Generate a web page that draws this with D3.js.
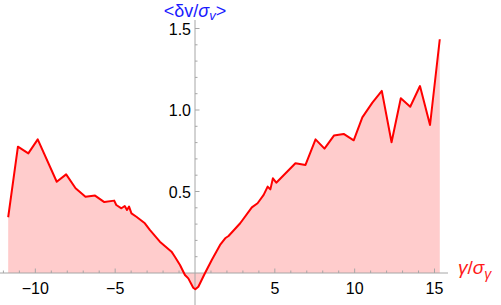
<!DOCTYPE html>
<html>
<head>
<meta charset="utf-8">
<script src="https://cdn.jsdelivr.net/npm/d3@7"></script>
<style>
  body { margin: 0; background: #fff; }
  svg { display: block; font-family: "Liberation Sans", Arial, sans-serif; }
</style>
</head>
<body>
<div id="wrapper"></div>
<script>
// data
const gammaValues = [
  -11.70, -11.09, -10.44, -9.85, -8.66, -8.07, -7.48, -6.86, -6.26, -5.68,
  -5.06, -4.93, -4.61, -4.40, -4.26, -4.13, -3.98, -3.67, -3.14, -2.83,
  -2.20, -1.47, -1.26, -0.94, -0.63, -0.42, -0.11, 0.02, 0.21, 0.63,
  1.05, 1.57, 1.89, 2.10, 2.83, 3.56, 3.92, 4.30, 4.55, 4.72,
  4.88, 5.09, 6.29, 6.92, 7.55, 8.11, 8.70, 9.31, 9.94, 10.48,
  11.11, 11.70, 12.31, 12.89, 13.48, 14.09, 14.72, 15.33
]
const deltaV = [
  0.342, 0.775, 0.734, 0.820, 0.560, 0.605, 0.520, 0.468, 0.475, 0.435,
  0.444, 0.417, 0.397, 0.411, 0.387, 0.407, 0.366, 0.345, 0.305, 0.264,
  0.192, 0.131, 0.100, 0.049, -0.012, -0.033, -0.090, -0.100, -0.084, 0.0,
  0.080, 0.172, 0.213, 0.227, 0.305, 0.403, 0.428, 0.479, 0.530, 0.513,
  0.581, 0.554, 0.673, 0.663, 0.820, 0.763, 0.843, 0.853, 0.814, 0.955,
  1.045, 1.117, 0.802, 1.072, 1.020, 1.147, 0.908, 1.434
]
const xMajorTicks = [-10, -5, 5, 10, 15]
const yMajorTicks = [0.5, 1.0, 1.5]

const data = gammaValues.map((g, i) => ({ x: g, y: deltaV[i] }))

const width = 501
const height = 305

const svg = d3.select("#wrapper").append("svg")
  .attr("width", width)
  .attr("height", height)

// scales: origin sits at (195, 273)
const xScale = d3.scaleLinear().domain([0, 15]).range([195, 434.5])
const yScale = d3.scaleLinear().domain([0, 1.5]).range([273, 28.5])

// filled area to y = 0
const area = d3.area()
  .x(d => xScale(d.x))
  .y0(yScale(0))
  .y1(d => yScale(d.y))

svg.append("path")
  .datum(data)
  .attr("d", area)
  .attr("fill", "#ffcccc")

// axes
const axisColor = "#a6a6a6"
svg.append("line")
  .attr("x1", 0).attr("x2", 448)
  .attr("y1", yScale(0)).attr("y2", yScale(0))
  .attr("stroke", axisColor)
svg.append("line")
  .attr("x1", xScale(0)).attr("x2", xScale(0))
  .attr("y1", 20).attr("y2", 305)
  .attr("stroke", axisColor)

// x ticks (inward = upward)
const xMinor = d3.range(-12, 16).filter(v => v !== 0)
svg.selectAll(".xtick")
  .data(xMinor)
  .join("line")
  .attr("class", "xtick")
  .attr("x1", d => xScale(d)).attr("x2", d => xScale(d))
  .attr("y1", yScale(0))
  .attr("y2", d => yScale(0) - (d % 5 === 0 ? 4.5 : 2.5))
  .attr("stroke", axisColor)

// y ticks (inward = right)
const yMinor = d3.range(1, 16).map(v => v / 10)
svg.selectAll(".ytick")
  .data(yMinor)
  .join("line")
  .attr("class", "ytick")
  .attr("y1", d => yScale(d)).attr("y2", d => yScale(d))
  .attr("x1", xScale(0))
  .attr("x2", d => xScale(0) + (Math.round(d * 10) % 5 === 0 ? 4.5 : 2.5))
  .attr("stroke", axisColor)

// line
const line = d3.line()
  .x(d => xScale(d.x))
  .y(d => yScale(d.y))

svg.append("path")
  .datum(data)
  .attr("d", line)
  .attr("fill", "none")
  .attr("stroke", "#ff0000")
  .attr("stroke-width", 2)
  .attr("stroke-linejoin", "round")

// tick labels
const fmtX = d => (d < 0 ? "\u2212" + Math.abs(d) : String(d))
svg.selectAll(".xlabel")
  .data(xMajorTicks)
  .join("text")
  .attr("class", "xlabel")
  .attr("x", d => xScale(d))
  .attr("y", 294)
  .attr("text-anchor", "middle")
  .attr("font-size", 16)
  .attr("fill", "#000")
  .text(fmtX)

svg.selectAll(".ylabel")
  .data(yMajorTicks)
  .join("text")
  .attr("class", "ylabel")
  .attr("x", xScale(0) - 4)
  .attr("y", d => yScale(d) + 6)
  .attr("text-anchor", "end")
  .attr("font-size", 16)
  .attr("fill", "#000")
  .text(d => d.toFixed(1))

// axis titles
const yTitle = svg.append("text")
  .attr("x", xScale(0))
  .attr("y", 17)
  .attr("text-anchor", "middle")
  .attr("font-size", 18)
  .attr("fill", "#1a1aff")
yTitle.append("tspan").text("<δv/")
yTitle.append("tspan").attr("font-style", "italic").text("σ")
yTitle.append("tspan").attr("font-style", "italic").attr("font-size", 13).attr("dy", 3).text("v")
yTitle.append("tspan").attr("dy", -3).text(">")

const xTitle = svg.append("text")
  .attr("x", 458)
  .attr("y", 274)
  .attr("font-size", 19)
  .attr("fill", "#ff1a1a")
xTitle.append("tspan").attr("font-style", "italic").text("γ")
xTitle.append("tspan").text("/")
xTitle.append("tspan").attr("font-style", "italic").text("σ")
xTitle.append("tspan").attr("font-style", "italic").attr("font-size", 14).attr("dy", 5).text("γ")
</script>
</body>
</html>
